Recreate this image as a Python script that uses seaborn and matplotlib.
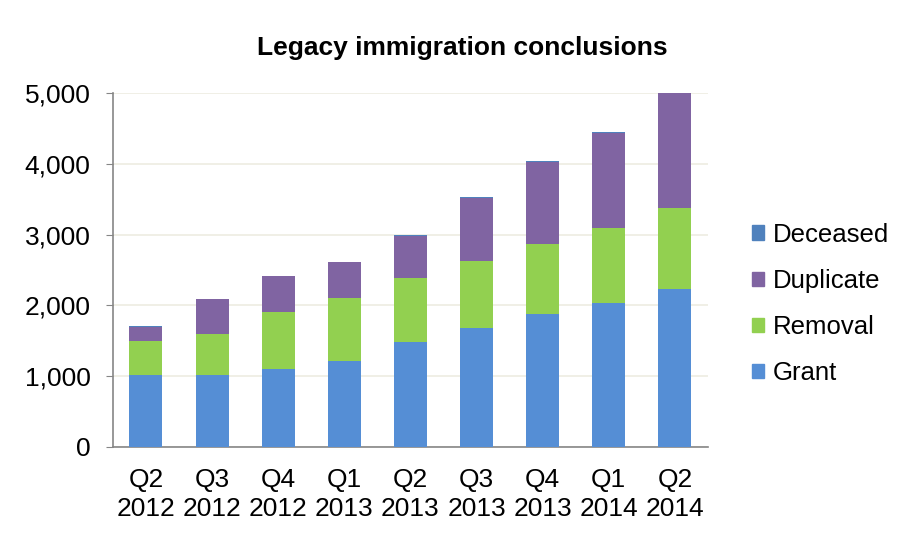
import numpy as np
import pandas as pd
import seaborn as sns
import matplotlib.pyplot as plt
from matplotlib.patches import Patch

quarters = ['Q2\n2012', 'Q3\n2012', 'Q4\n2012', 'Q1\n2013', 'Q2\n2013',
            'Q3\n2013', 'Q4\n2013', 'Q1\n2014', 'Q2\n2014']
grant = [1010, 1010, 1100, 1210, 1480, 1680, 1880, 2040, 2230]
removal = [490, 590, 800, 890, 910, 950, 980, 1050, 1140]
duplicate = [200, 490, 510, 510, 590, 890, 1170, 1350, 1630]
deceased = [5, 5, 5, 5, 12, 12, 12, 15, 0]

series = ['Grant', 'Removal', 'Duplicate', 'Deceased']
colors = {'Grant': '#558ED5', 'Removal': '#92D050',
          'Duplicate': '#8064A2', 'Deceased': '#4F81BD'}

data = pd.DataFrame({'Quarter': quarters, 'Grant': grant, 'Removal': removal,
                     'Duplicate': duplicate, 'Deceased': deceased})

sns.set_style("white")
plt.rcParams['font.family'] = ['Liberation Sans', 'DejaVu Sans']
plt.rcParams['text.color'] = 'black'
plt.rcParams['xtick.color'] = 'black'
plt.rcParams['ytick.color'] = 'black'

fig = plt.figure(figsize=(9.03, 5.34), dpi=100)
ax = fig.add_axes([0.125, 0.163, 0.659, 0.663])

bottom = np.zeros(len(quarters))
for s in series:
    sns.barplot(data=data, x='Quarter', y=s, color=colors[s], bottom=bottom,
                width=0.5, ax=ax, linewidth=0, saturation=1, zorder=3)
    bottom = bottom + data[s].values

ax.set_ylim(0, 5000)
ax.set_xlim(-0.5, len(quarters) - 0.5)
ax.set_yticks(range(0, 5001, 1000))
ax.set_yticklabels([f'{v:,}' for v in range(0, 5001, 1000)], fontsize=19)
ax.set_xticks(range(len(quarters)))
ax.set_xticklabels(quarters, fontsize=19, linespacing=1.25)
ax.set_xticks(np.arange(-0.5, len(quarters), 1), minor=True)
ax.tick_params(axis='x', which='major', length=0, pad=15)
ax.tick_params(axis='x', which='minor', length=7, color='#868686', direction='out')
ax.tick_params(axis='y', length=5, color='#868686', direction='out', left=True, pad=11)
ax.set_xlabel('')
ax.set_ylabel('')

ax.yaxis.grid(True, color='#EEECE1', linewidth=1.2, zorder=0)
ax.set_axisbelow(True)
for side in ['top', 'right']:
    ax.spines[side].set_visible(False)
for side in ['left', 'bottom']:
    ax.spines[side].set_color('#868686')
    ax.spines[side].set_linewidth(1.2)

fig.text(0.512, 0.911, 'Legacy immigration conclusions', ha='center', va='center',
         fontsize=19, fontweight='bold')

handles = [Patch(color=colors[s], label=s) for s in reversed(series)]
fig.legend(handles=handles, loc='center left', bbox_to_anchor=(0.807, 0.431),
           frameon=False, fontsize=18.5, handlelength=0.47, handleheight=0.47,
           handletextpad=0.35, labelspacing=0.86)

plt.savefig('out.png', dpi=100)
